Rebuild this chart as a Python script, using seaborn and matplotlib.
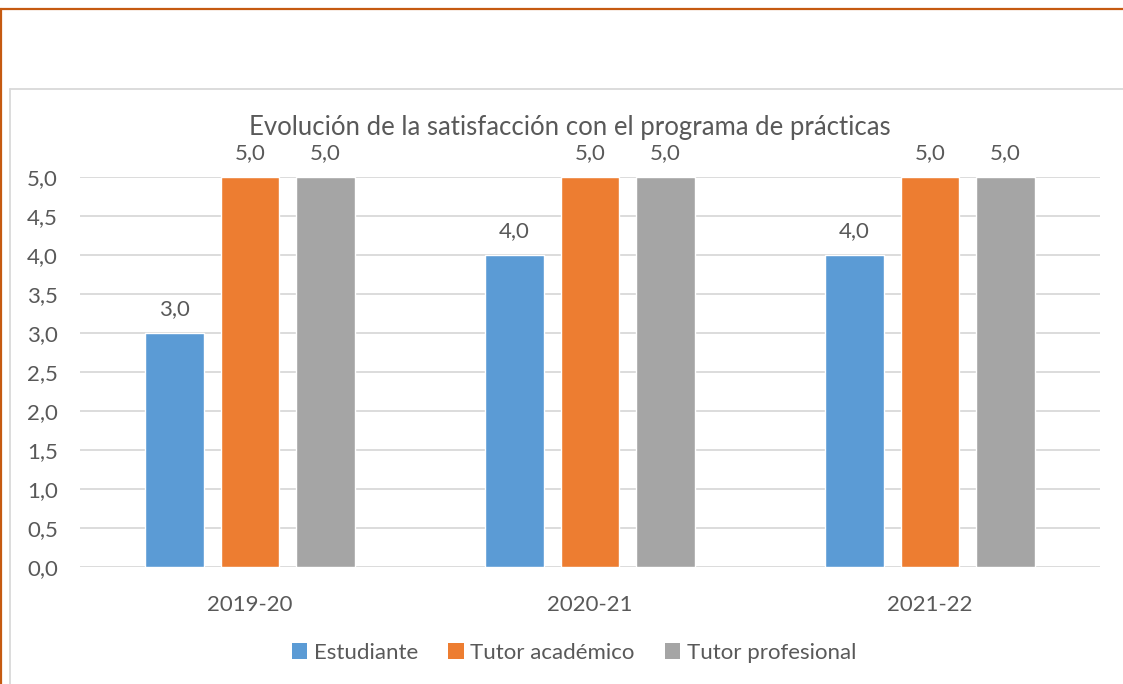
import matplotlib
matplotlib.use("Agg")
import matplotlib.pyplot as plt
import seaborn as sns
import pandas as pd
from matplotlib.lines import Line2D
from matplotlib.patches import Patch

years = ["2019-20", "2020-21", "2021-22"]
series = ["Estudiante", "Tutor académico", "Tutor profesional"]
estudiante = [3.0, 4.0, 4.0]
tutor_academico = [5.0, 5.0, 5.0]
tutor_profesional = [5.0, 5.0, 5.0]
yticks = [0, 0.5, 1, 1.5, 2, 2.5, 3, 3.5, 4, 4.5, 5]
title = "Evolución de la satisfacción con el programa de prácticas"

colors = ["#5b9bd5", "#ed7d31", "#a5a5a5"]
txt = "#595959"

sns.set_style("white")
plt.rcParams["font.family"] = ["Lato", "DejaVu Sans"]

df = pd.DataFrame({
    "year": years * 3,
    "serie": [series[0]] * 3 + [series[1]] * 3 + [series[2]] * 3,
    "value": estudiante + tutor_academico + tutor_profesional,
})

fs = 16

fig = plt.figure(figsize=(11.23, 6.84), dpi=100)
ax = fig.add_axes([80 / 1123, 1 - 567 / 684, 1020 / 1123, 390 / 684])

sns.barplot(data=df, x="year", y="value", hue="serie", palette=colors,
            width=0.667, gap=0.22, ax=ax, legend=False, errorbar=None,
            saturation=1)

ax.set_ylim(0, 5)
ax.set_xlim(-0.5, 2.5)
ax.set_yticks(yticks)
ax.set_yticklabels([f"{v:.1f}".replace(".", ",") for v in yticks])
ax.yaxis.grid(True, color="#d9d9d9", linewidth=1.3)
ax.set_axisbelow(True)
for s in ax.spines.values():
    s.set_visible(False)
ax.tick_params(axis="y", length=0, pad=16, labelsize=fs, labelcolor=txt)
ax.tick_params(axis="x", length=0, pad=20, labelsize=fs, labelcolor=txt)
ax.set_xlabel("")
ax.set_ylabel("")

for cont in ax.containers:
    ax.bar_label(cont, labels=[f"{b.get_height():.1f}".replace(".", ",") for b in cont],
                 padding=10, fontsize=fs, color=txt)

fig.text(570 / 1123, 1 - 128 / 684, title, ha="center", va="center",
         fontsize=18.5, color=txt)

handles = [Patch(facecolor=c, edgecolor="none") for c in colors]
fig.legend(handles, series, loc="center", bbox_to_anchor=(574 / 1123, 1 - 653 / 684),
           ncol=3, frameon=False, fontsize=fs, labelcolor=txt,
           handlelength=0.7, handleheight=0.7, handletextpad=0.3, columnspacing=1.35)

# frames
fig.add_artist(Line2D([0, 1], [1 - 9 / 684] * 2, color="#c55a11", lw=1.6, transform=fig.transFigure))
fig.add_artist(Line2D([1 / 1123] * 2, [0, 1 - 9 / 684], color="#c55a11", lw=1.6, transform=fig.transFigure))
fig.add_artist(Line2D([10 / 1123, 1], [1 - 89 / 684] * 2, color="#d9d9d9", lw=1.3, transform=fig.transFigure))
fig.add_artist(Line2D([10 / 1123] * 2, [0, 1 - 89 / 684], color="#d9d9d9", lw=1.3, transform=fig.transFigure))

fig.savefig("out.png", dpi=100, facecolor="white")
